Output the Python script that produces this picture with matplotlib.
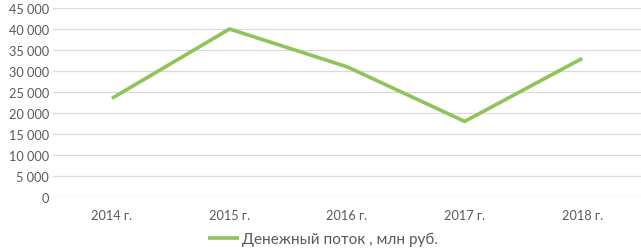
import matplotlib
matplotlib.use("Agg")
import matplotlib.pyplot as plt
from matplotlib.ticker import FuncFormatter

years = ["2014 г.", "2015 г.", "2016 г.", "2017 г.", "2018 г."]
cash_flow = [23500, 40000, 31000, 18000, 33000]
series_name = "Денежный поток , млн руб."

plt.rcParams['font.family'] = ['Lato', 'DejaVu Sans']

fig = plt.figure(figsize=(6.41, 2.53), dpi=100)
ax = fig.add_axes([0.083, 0.2174, 0.917, 0.747])

x = range(len(years))
ax.plot(x, cash_flow, color="#8fc45a", linewidth=2.6, solid_capstyle="butt",
        label=series_name)

ax.set_xlim(-0.5, len(years) - 0.5)
ax.set_ylim(0, 45000)
ax.set_yticks(range(0, 45001, 5000))
ax.yaxis.set_major_formatter(FuncFormatter(lambda v, p: f"{int(v):,}".replace(",", " ")))
ax.set_xticks(list(x))
ax.set_xticklabels(years)

ax.grid(axis="y", color="#d9d9d9", linewidth=0.9)
ax.set_axisbelow(True)
for s in ax.spines.values():
    s.set_visible(False)
ax.tick_params(axis="both", length=0, labelsize=9.2, labelcolor="#595959")
ax.tick_params(axis="y", pad=3)
ax.tick_params(axis="x", pad=9)

fig.legend(loc="center", bbox_to_anchor=(0.504, 0.05), frameon=False,
           fontsize=11, handlelength=2.0, handletextpad=0.2, labelcolor="#595959")

fig.savefig("out.png", dpi=100)
